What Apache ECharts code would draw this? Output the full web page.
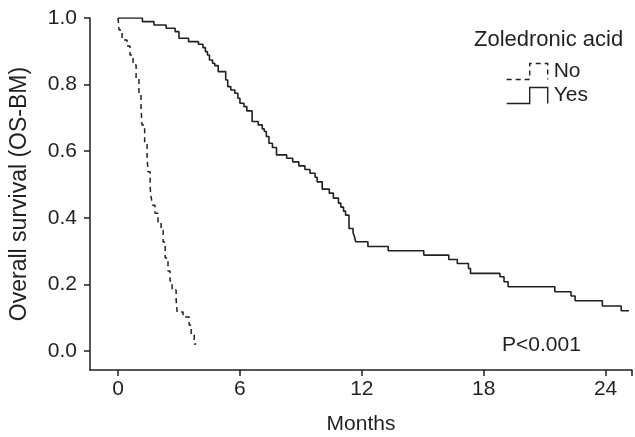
<!DOCTYPE html>
<html><head><meta charset="utf-8">
<script src="https://cdn.jsdelivr.net/npm/echarts@6/dist/echarts.min.js"></script>
<style>html,body{margin:0;padding:0;background:#fff}#c{width:635px;height:437px}</style>
</head><body><div id="c"></div>
<script>
const xTicks = [0, 6, 12, 18, 24];
const yTicks = [0, 0.2, 0.4, 0.6, 0.8, 1.0];
const legendTitle = 'Zoledronic acid';
const groupNames = ['No', 'Yes'];
const pText = 'P<0.001';

const noMonths = [0,0.05,0.2,0.44,0.59,0.74,0.89,1.03,1.13,1.18,1.31,1.43,1.48,1.58,1.61,1.70,1.82,1.97,2.12,2.22,2.32,2.46,2.56,2.66,2.86,2.91,3.20,3.50,3.60,3.75,3.85];
const noSurv = [1.0,0.964,0.934,0.916,0.889,0.859,0.820,0.769,0.730,0.679,0.625,0.580,0.538,0.495,0.468,0.438,0.414,0.387,0.363,0.327,0.279,0.240,0.210,0.183,0.153,0.117,0.102,0.078,0.048,0.021,0.021];

const yesMonths = [0,1.2,1.77,2.37,2.81,3.0,3.47,3.96,4.18,4.3,4.4,4.5,4.65,4.76,4.93,5.3,5.4,5.55,5.75,5.9,6.0,6.2,6.34,6.6,6.9,7.1,7.2,7.3,7.43,7.6,7.8,8.3,8.6,8.9,9.2,9.45,9.7,9.8,10.05,10.4,10.6,10.85,10.97,11.1,11.2,11.37,11.57,11.65,11.7,12.3,13.3,15.05,16.28,16.7,17.25,17.35,18.8,19.0,19.2,21.5,22.3,22.5,23.84,24.77,25.15];
const yesSurv = [1.0,0.989,0.979,0.969,0.959,0.939,0.929,0.921,0.911,0.899,0.889,0.874,0.864,0.857,0.839,0.814,0.794,0.784,0.774,0.759,0.744,0.734,0.721,0.689,0.679,0.667,0.659,0.644,0.624,0.611,0.589,0.579,0.568,0.556,0.545,0.534,0.522,0.508,0.486,0.474,0.459,0.444,0.432,0.420,0.408,0.368,0.355,0.341,0.328,0.314,0.301,0.288,0.275,0.263,0.248,0.233,0.223,0.208,0.193,0.178,0.165,0.151,0.135,0.121,0.121];

const ink = '#231f20';
const font = "'Liberation Sans', Arial, sans-serif";
const fs = 21;

const chart = echarts.init(document.getElementById('c'), null, {renderer: 'canvas'});
const zip = (a, b) => a.map((v, i) => [v, b[i]]);
const stepIcon = 'path://M0,16 L23,16 L23,0 L41,0 L41,16';

chart.setOption({
  animation: false,
  backgroundColor: '#fff',
  textStyle: {fontFamily: font, color: ink},
  grid: {left: 90, right: 3, top: 18, bottom: 67, containLabel: false, outerBoundsMode: 'none'},
  title: [
    {text: legendTitle, left: 474, top: 29, padding: 0,
     textStyle: {fontFamily: font, fontSize: 22, fontWeight: 'normal', color: ink}},
    {text: pText, left: 502, top: 335, padding: 0,
     textStyle: {fontFamily: font, fontSize: fs, fontWeight: 'normal', color: ink}}
  ],
  legend: {
    orient: 'vertical', left: 506, top: 61, itemWidth: 41, itemHeight: 16, itemGap: 3,
    selectedMode: false, padding: 0,
    textStyle: {fontFamily: font, fontSize: fs, color: ink, padding: [0, 0, 0, 1]},
    data: [
      {name: groupNames[0], icon: stepIcon,
       itemStyle: {color: 'rgba(0,0,0,0)', borderColor: ink, borderWidth: 1.4, borderType: [5, 4]}},
      {name: groupNames[1], icon: stepIcon,
       itemStyle: {color: 'rgba(0,0,0,0)', borderColor: ink, borderWidth: 1.4, borderType: 'solid'}}
    ]
  },
  xAxis: {
    type: 'value', min: -1.38, max: 25.3,
    name: 'Months', nameLocation: 'middle', nameGap: 44,
    nameTextStyle: {fontFamily: font, fontSize: fs, color: ink},
    axisLine: {show: true, onZero: false, lineStyle: {color: ink, width: 1.5}},
    axisTick: {show: true, length: 6, inside: false, customValues: xTicks.concat([25.3]), lineStyle: {color: ink, width: 1.5}},
    axisLabel: {customValues: xTicks, margin: 9, fontFamily: font, fontSize: fs, color: ink},
    splitLine: {show: false}
  },
  yAxis: {
    type: 'value', min: -0.057, max: 1.0,
    name: 'Overall survival (OS-BM)', nameLocation: 'middle', nameGap: 59, nameRotate: 90,
    nameTextStyle: {fontFamily: font, fontSize: 23, color: ink},
    axisLine: {show: true, onZero: false, lineStyle: {color: ink, width: 1.5}},
    axisTick: {show: true, length: 6, inside: false, customValues: yTicks, lineStyle: {color: ink, width: 1.5}},
    axisLabel: {customValues: yTicks, margin: 13, fontFamily: font, fontSize: fs, color: ink,
      formatter: v => Number(v).toFixed(1)},
    splitLine: {show: false}
  },
  series: [
    {name: groupNames[0], type: 'line', step: 'end', showSymbol: false, symbol: 'none',
     data: zip(noMonths, noSurv), lineStyle: {color: ink, width: 1.5, type: [5, 4]}, itemStyle: {color: ink}},
    {name: groupNames[1], type: 'line', step: 'end', showSymbol: false, symbol: 'none',
     data: zip(yesMonths, yesSurv), lineStyle: {color: ink, width: 1.6, type: 'solid'}, itemStyle: {color: ink}}
  ]
});
</script></body></html>
